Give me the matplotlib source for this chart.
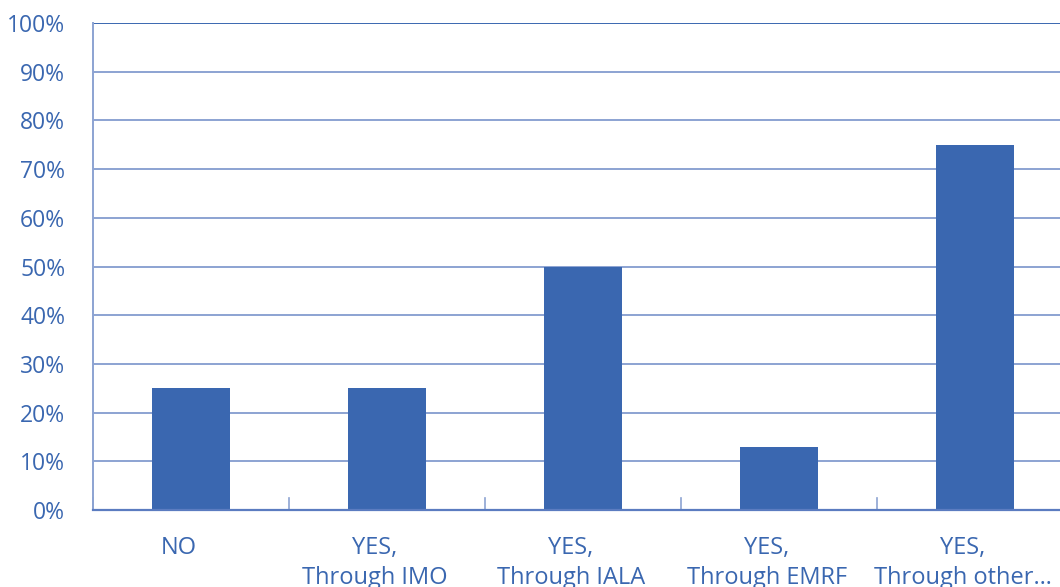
import matplotlib.pyplot as plt
import matplotlib.transforms as mtransforms
import numpy as np

# --- data ---
categories = ['NO', 'YES,\nThrough IMO', 'YES,\nThrough IALA', 'YES,\nThrough EMRF', 'YES,\nThrough other…']
values = [25, 25, 50, 13, 75]
y_ticks = list(range(0, 101, 10))
y_labels = [f'{t}%' for t in y_ticks]

bar_color = '#3A67B0'
text_color = '#3A67B0'
grid_color = '#8CA3D2'

plt.rcParams['font.family'] = ['Open Sans', 'DejaVu Sans']

fig = plt.figure(figsize=(10.6, 5.87), dpi=100)
ax = fig.add_axes([93 / 1060, 77 / 587, 1 - 93 / 1060, (510 - 23) / 587])

x = np.arange(len(categories))
ax.bar(x, values, width=0.4, color=bar_color, zorder=3)

ax.set_ylim(0, 100)
ax.set_yticks(y_ticks)
ax.set_yticklabels(y_labels)
ax.set_xlim(-0.5, 4.5 - 13 / 196)

# gridlines
for t in y_ticks[1:]:
    ax.axhline(t, color=grid_color if t < 100 else '#3A67B0', linewidth=1.4, zorder=1)

# category boundary ticks (drawn inside, pointing up)
ax.set_xticks(x)
ax.set_xticklabels(categories, fontsize=17, color=text_color, linespacing=1.3)
ax.tick_params(axis='x', length=0, pad=19)
for b in np.arange(-0.5, 4.5, 1.0):
    ax.plot([b, b], [0, 2.4], color=grid_color, linewidth=1.2, zorder=2, clip_on=False)

offset = mtransforms.ScaledTranslation(-12 / 100, 0, fig.dpi_scale_trans)
for lbl in ax.get_xticklabels():
    lbl.set_transform(lbl.get_transform() + offset)

ax.tick_params(axis='y', length=0, pad=20, labelsize=16.5, labelcolor=text_color)

for side in ['top', 'right']:
    ax.spines[side].set_visible(False)
ax.spines['left'].set_color(grid_color)
ax.spines['left'].set_linewidth(1.4)
ax.spines['bottom'].set_color('#5B7CC0')
ax.spines['bottom'].set_linewidth(1.6)
ax.spines['bottom'].set_zorder(4)

fig.savefig('out.png', dpi=100)
